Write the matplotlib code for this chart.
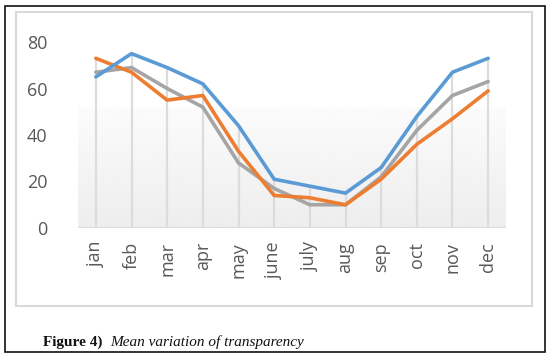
import numpy as np
import matplotlib
matplotlib.use("Agg")
import matplotlib.pyplot as plt
from matplotlib.patches import Rectangle

months = ["jan", "feb", "mar", "apr", "may", "june", "july", "aug", "sep", "oct", "nov", "dec"]
series_blue = [65, 75, 69, 62, 44, 21, 18, 15, 26, 48, 67, 73]
series_orange = [73, 67, 55, 57, 33, 14, 13, 10, 21, 36, 47, 59]
series_gray = [67, 69, 60, 52, 28, 17, 10, 10, 22, 42, 57, 63]
yticks = [0, 20, 40, 60, 80]

W, H = 554, 356
fig = plt.figure(figsize=(W / 100, H / 100), dpi=100)
fig.patch.set_facecolor("white")

# outer black border
fig.add_artist(Rectangle((5 / W, 1 - 352 / H), 540 / W, 346 / H, transform=fig.transFigure,
                         fill=False, edgecolor="#111111", linewidth=1.2))
# inner chart frame
fig.add_artist(Rectangle((16 / W, 1 - 306 / H), 516 / W, 294 / H, transform=fig.transFigure,
                         fill=False, edgecolor="#d9d9d9", linewidth=1.5))

ax = fig.add_axes([78 / W, 1 - 228 / H, 428 / W, 186 / H])
x = np.arange(len(months))
ax.set_xlim(-0.5, len(months) - 0.5)
ax.set_ylim(0, 80)

# gradient background in lower part
grad = np.linspace(0.93, 0.985, 100).reshape(-1, 1)
ax.imshow(grad, cmap="gray", vmin=0, vmax=1, aspect="auto",
          extent=[0, 1, 0, 0.65], transform=ax.transAxes, zorder=0, origin="lower")

tops = np.max(np.vstack([series_blue, series_orange, series_gray]), axis=0)
ax.vlines(x, 0, tops, colors="#dcdcdc", linewidth=1.6, zorder=1)
ax.axhline(0, color="#d9d9d9", linewidth=2, zorder=1)

ax.plot(x, series_gray, color="#a5a5a5", linewidth=2.6, zorder=3, solid_capstyle="round")
ax.plot(x, series_orange, color="#ed7d31", linewidth=2.6, zorder=4, solid_capstyle="round")
ax.plot(x, series_blue, color="#5b9bd5", linewidth=2.6, zorder=5, solid_capstyle="round")

for s in ax.spines.values():
    s.set_visible(False)
ax.set_yticks(yticks)
ax.set_xticks(x)
ax.set_xticklabels(months, rotation=90, fontsize=13, color="#595959", family="Open Sans")
ax.set_yticklabels([str(v) for v in yticks], fontsize=13, color="#595959", family="Open Sans")
ax.tick_params(axis="both", length=0)
ax.tick_params(axis="x", pad=10)
ax.tick_params(axis="y", pad=22)

fig.text(43 / W, 1 - 342 / H, "Figure 4)", fontsize=11, fontweight="semibold",
         family="Liberation Serif", va="center", ha="left", color="#111111")
fig.text(110 / W, 1 - 342 / H, "Mean variation of transparency", fontsize=11, style="italic",
         family="Liberation Serif", va="center", ha="left", color="#111111")

fig.savefig("out.png", dpi=100)
